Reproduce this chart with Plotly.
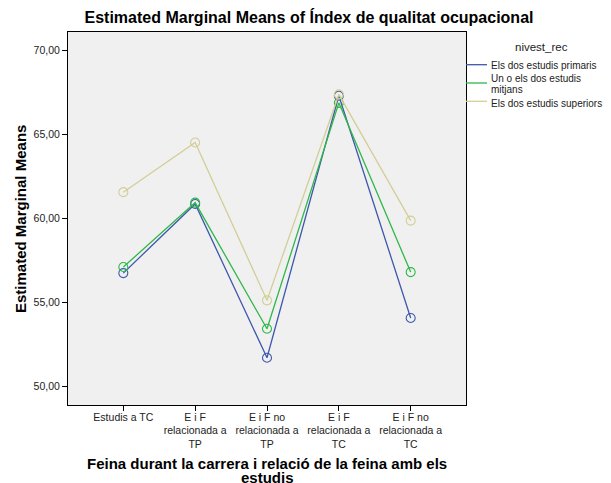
import plotly.graph_objects as go

categories = ["Estudis a TC", "E i F<br>relacionada a<br>TP", "E i F no<br>relacionada a<br>TP",
              "E i F<br>relacionada a<br>TC", "E i F no<br>relacionada a<br>TC"]
series_names = ["Els dos estudis primaris", "Un o els dos estudis<br>mitjans", "Els dos estudis superiors"]
primaris = [56.74, 60.85, 51.71, 67.28, 54.07]
mitjans = [57.10, 60.93, 53.43, 66.86, 56.80]
superiors = [61.55, 64.50, 55.12, 67.36, 59.86]
y_ticks = [50, 55, 60, 65, 70]
x_title_lines = ["Feina durant la carrera i relació de la feina amb els", "estudis"]

colors = ["#3E58AC", "#2EB848", "#D3CE97"]
values = [primaris, mitjans, superiors]
x_idx = list(range(len(categories)))

# The page body adds an 8px offset, so the figure is sized to fit the window.
OFF = 8
W, H = 611 - OFF, 483 - OFF
PL, PR, PT, PB = 68, 466, 32, 405  # plot frame in window pixels


def px(x):
    return (x - PL) / (PR - PL)


def py(y):
    return (PB - y) / (PB - PT)


fig = go.Figure()
for name, vals, col in zip(series_names, values, colors):
    fig.add_trace(go.Scatter(
        x=x_idx, y=vals, mode="lines+markers", name=name,
        line=dict(color=col, width=1.3),
        marker=dict(symbol="circle-open", size=9, color=col, line=dict(width=1.1)),
        showlegend=False,
    ))

fig.update_layout(
    width=W, height=H,
    margin=dict(l=PL - OFF, r=611 - PR, t=PT - OFF, b=483 - PB, autoexpand=False),
    paper_bgcolor="white", plot_bgcolor="#F0F0F0",
    separators=",.",
    font=dict(family="Liberation Sans, Arial", color="#222222"),
    title=dict(text="<b>Estimated Marginal Means of Índex de qualitat ocupacional</b>",
               x=(309 - OFF) / W, xanchor="center", y=1 - (17 - OFF) / H, yanchor="middle",
               font=dict(size=16, color="black")),
    xaxis=dict(
        range=[-0.77, 4.77], tickmode="array", tickvals=x_idx, ticktext=categories,
        showgrid=False, zeroline=False, showline=True, linecolor="black", linewidth=1, mirror=True,
        ticks="outside", ticklen=5, tickcolor="black", tickfont=dict(size=10.5, color="#222222"),
        ticklabelstandoff=-3, automargin=False,
    ),
    yaxis=dict(
        range=[48.9, 71.07], tickmode="array", tickvals=y_ticks, tickformat=".2f",
        showgrid=False, zeroline=False, showline=True, linecolor="black", linewidth=1, mirror=True,
        ticks="outside", ticklen=5, tickcolor="black", tickfont=dict(size=10.5, color="#222222"),
        automargin=False,
    ),
)

# Axis titles
for line, ty in zip(x_title_lines, [463.5, 478]):
    fig.add_annotation(text="<b>" + line + "</b>",
                       xref="paper", yref="paper", x=px(267), y=py(ty), xanchor="center", yanchor="middle",
                       showarrow=False, font=dict(size=15, color="black"))
fig.add_annotation(text="<b>Estimated Marginal Means</b>", textangle=-90,
                   xref="paper", yref="paper", x=px(20), y=py(219), xanchor="center", yanchor="middle",
                   showarrow=False, font=dict(size=15, color="black"))

# Legend (drawn to mimic SPSS layout)
fig.add_annotation(text="nivest_rec", xref="paper", yref="paper", x=px(541.5), y=py(46.5),
                   xanchor="center", yanchor="middle", showarrow=False,
                   font=dict(size=11.5, color="#222222"))
line_ys = [64.7, 83, 101.3]
text_ys = [[66], [78.5, 89], [103.7]]
for name, col, ly, tys in zip(series_names, colors, line_ys, text_ys):
    fig.add_shape(type="line", xref="paper", yref="paper", x0=px(466), x1=px(487), y0=py(ly), y1=py(ly),
                  line=dict(color=col, width=1.3))
    for part, ty in zip(name.split("<br>"), tys):
        fig.add_annotation(text=part, xref="paper", yref="paper", x=px(488.5), y=py(ty),
                           xanchor="left", yanchor="middle", align="left", showarrow=False,
                           font=dict(size=10, color="#222222"))

fig.write_html("out.html")
